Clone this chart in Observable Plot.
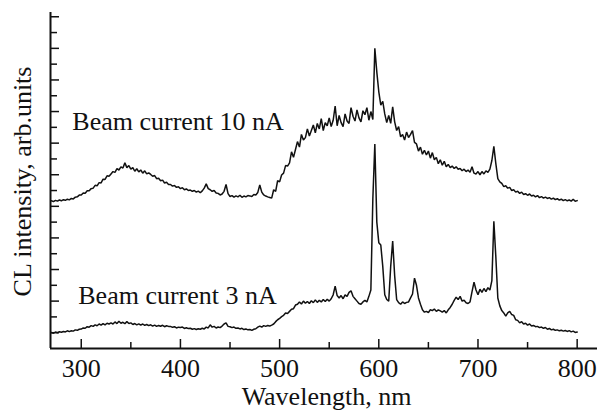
<!DOCTYPE html>
<html><head><meta charset="utf-8">
<script src="https://cdn.jsdelivr.net/npm/d3@7"></script>
<script src="https://cdn.jsdelivr.net/npm/@observablehq/plot@0.6"></script>
<style>
html,body{margin:0;padding:0;background:#fff;}
#chart svg{display:block;}
</style></head><body><div id="chart"></div>
<script>
// Wavelength grid, nm
const wavelength = [
270,272,274,276,278,280,282,284,286,288,
290,292,294,296,298,300,302,304,306,308,
310,312,314,316,318,320,322,324,326,328,
330,332,334,336,338,340,342,344,346,348,
350,352,354,356,358,360,362,364,366,368,
370,372,374,376,378,380,382,384,386,388,
390,392,394,396,398,400,402,404,406,408,
410,412,414,416,418,420,422,424,426,428,
430,432,434,436,438,440,442,444,446,448,
450,452,454,456,458,460,462,464,466,468,
470,472,474,476,478,480,482,484,486,488,
490,492,494,496,498,500,502,504,506,508,
510,512,514,516,518,520,522,524,526,528,
530,532,534,536,538,540,542,544,546,548,
550,552,554,556,558,560,562,564,566,568,
570,572,574,576,578,580,582,584,586,588,
590,592,594,596,598,600,602,604,606,608,
610,612,614,616,618,620,622,624,626,628,
630,632,634,636,638,640,642,644,646,648,
650,652,654,656,658,660,662,664,666,668,
670,672,674,676,678,680,682,684,686,688,
690,692,694,696,698,700,702,704,706,708,
710,712,714,716,718,720,722,724,726,728,
730,732,734,736,738,740,742,744,746,748,
750,752,754,756,758,760,762,764,766,768,
770,772,774,776,778,780,782,784,786,788,
790,792,794,796,798,800];

// CL intensity (arb. units, one unit = one y tick), beam current 10 nA
const intensity10nA = [
9.35,9.30,9.38,9.33,9.40,9.35,9.42,9.38,9.45,9.41,
9.50,9.47,9.58,9.60,9.71,9.72,9.85,9.83,9.98,9.99,
10.12,10.15,10.33,10.30,10.50,10.48,10.72,10.70,10.93,10.90,
11.05,11.20,11.15,11.38,11.30,11.50,11.42,11.75,11.45,11.58,
11.35,11.45,11.22,11.38,11.18,11.30,11.10,11.25,11.05,11.12,
11.02,10.90,10.95,10.75,10.78,10.62,10.66,10.48,10.52,10.38,
10.38,10.28,10.32,10.20,10.24,10.12,10.18,10.05,10.10,10.00,
10.03,9.95,10.00,9.90,9.96,9.86,9.98,10.15,10.42,10.12,
10.05,9.95,10.00,9.85,9.82,9.72,9.78,9.95,10.38,9.80,
9.62,9.68,9.58,9.66,9.60,9.70,9.57,9.65,9.60,9.68,
9.66,9.62,9.75,9.72,9.88,10.35,9.90,9.72,9.65,9.60,
9.56,9.52,10.05,9.95,10.62,10.55,10.98,11.10,11.58,11.55,
11.75,12.45,12.10,12.60,13.10,12.75,13.55,13.20,13.35,13.90,
13.45,13.80,14.15,13.65,14.25,13.90,14.55,13.80,14.30,14.10,
14.60,14.05,14.45,15.35,14.10,14.75,14.30,14.05,14.85,14.40,
14.25,15.25,14.70,14.40,15.10,14.60,14.35,15.05,14.80,15.25,
14.45,15.00,14.50,19.00,17.50,16.25,15.40,15.65,14.85,14.30,
14.75,14.25,15.30,14.35,13.80,14.05,13.40,13.55,13.20,13.70,
13.35,13.55,13.80,13.05,12.95,12.50,12.75,12.30,12.55,12.25,
12.50,12.05,12.40,11.95,12.10,11.70,11.95,11.60,11.85,11.50,
11.65,11.45,11.55,11.40,11.50,11.35,11.40,11.25,11.35,11.20,
11.30,11.15,11.50,11.10,11.05,11.20,11.00,11.20,11.05,11.25,
11.15,11.35,11.90,12.80,11.70,10.75,10.55,10.45,10.25,10.30,
10.15,10.20,10.00,10.05,9.90,9.95,9.82,9.90,9.75,9.80,
9.70,9.78,9.65,9.70,9.60,9.68,9.55,9.62,9.52,9.58,
9.50,9.55,9.45,9.52,9.42,9.48,9.40,9.45,9.36,9.42,
9.35,9.40,9.33,9.45,9.32,9.36];

// CL intensity, beam current 3 nA
const intensity3nA = [
1.01,0.97,1.04,1.00,1.06,1.03,1.08,1.05,1.12,1.07,
1.12,1.10,1.18,1.15,1.22,1.23,1.30,1.28,1.38,1.35,
1.45,1.40,1.50,1.44,1.55,1.48,1.58,1.50,1.60,1.55,
1.62,1.55,1.68,1.58,1.72,1.60,1.66,1.57,1.70,1.58,
1.62,1.52,1.58,1.50,1.56,1.48,1.55,1.46,1.52,1.45,
1.50,1.42,1.48,1.40,1.46,1.41,1.47,1.38,1.44,1.40,
1.40,1.34,1.38,1.30,1.35,1.33,1.36,1.27,1.31,1.26,
1.28,1.22,1.26,1.20,1.25,1.22,1.28,1.24,1.35,1.30,
1.50,1.35,1.40,1.30,1.36,1.32,1.42,1.55,1.62,1.40,
1.38,1.32,1.36,1.28,1.30,1.24,1.28,1.20,1.24,1.18,
1.20,1.15,1.22,1.25,1.35,1.42,1.36,1.45,1.40,1.46,
1.42,1.48,1.55,1.70,1.82,1.90,2.02,2.10,2.25,2.22,
2.35,2.48,2.52,2.75,2.80,2.95,2.82,3.00,2.86,2.98,
2.85,3.02,2.90,3.08,2.92,3.05,2.95,3.10,2.98,3.12,
3.00,3.15,3.40,3.95,3.35,3.20,3.35,3.15,3.40,3.30,
3.55,3.65,3.30,3.15,3.00,2.85,2.80,2.95,3.05,2.95,
3.30,3.70,9.50,12.95,8.00,6.70,6.55,5.20,3.40,3.10,
3.00,5.20,6.80,4.60,3.10,2.90,2.80,2.95,2.85,2.92,
2.95,3.20,3.45,4.45,4.00,3.20,2.80,2.45,2.30,2.35,
2.28,2.45,2.40,2.50,2.35,2.45,2.38,2.30,2.40,2.25,
2.45,2.60,2.80,3.05,3.25,3.10,3.30,3.00,3.05,2.90,
2.85,2.95,3.60,4.20,3.70,3.40,3.75,3.55,3.80,3.60,
3.85,3.70,4.30,8.05,5.80,3.20,2.70,2.40,2.25,2.05,
2.25,2.35,2.15,2.10,1.82,1.78,1.62,1.70,1.55,1.60,
1.48,1.55,1.42,1.46,1.38,1.40,1.32,1.36,1.28,1.33,
1.22,1.27,1.18,1.22,1.15,1.18,1.12,1.16,1.10,1.14,
1.08,1.13,1.05,1.10,1.02,1.04];

const xMajorTicks = [300, 400, 500, 600, 700, 800];
const xMinorTicks = [350, 450, 550, 650, 750];
const yMajorTicks = [1, 3, 5, 7, 9, 11, 13, 15, 17, 19, 21];
const yMinorTicks = [2, 4, 6, 8, 10, 12, 14, 16, 18, 20];
const annotationText = ["Beam current 10 nA", "Beam current 3 nA"];
const annotationX = [291, 297];
const annotationY = [14.35, 3.37];
const xLabel = "Wavelength, nm";
const yLabel = "CL intensity, arb.units";

const W = 598, H = 413, mL = 50, mR = 1, mT = 12, mB = 65;
const plotW = W - mL - mR, plotH = H - mT - mB;
const xDomain = [269, 820.5], yDomain = [0, 21.27];
const font = "'Liberation Serif','Times New Roman',Times,serif";
const ink = "#111";

const rows10 = wavelength.map((w, i) => ({wavelength: w, intensity: intensity10nA[i]}));
const rows3 = wavelength.map((w, i) => ({wavelength: w, intensity: intensity3nA[i]}));
const notes = annotationText.map((t, i) => ({text: t, x: annotationX[i], y: annotationY[i]}));

const chart = Plot.plot({
  width: W, height: H,
  marginLeft: mL, marginRight: mR, marginTop: mT, marginBottom: mB,
  x: {domain: xDomain, axis: null},
  y: {domain: yDomain, axis: null},
  style: {fontFamily: font, fontSize: "26px", background: "#fff", color: ink},
  marks: [
    Plot.line(rows10, {x: "wavelength", y: "intensity", stroke: ink, strokeWidth: 1.5, strokeLinejoin: "miter"}),
    Plot.line(rows3, {x: "wavelength", y: "intensity", stroke: ink, strokeWidth: 1.5, strokeLinejoin: "miter"}),
    Plot.ruleX(xMajorTicks, {insetTop: plotH - 9, stroke: ink, strokeWidth: 1.5}),
    Plot.ruleX(xMinorTicks, {insetTop: plotH - 6, stroke: ink, strokeWidth: 1.5}),
    Plot.ruleY(yMajorTicks, {insetRight: plotW - 9, stroke: ink, strokeWidth: 1.5}),
    Plot.ruleY(yMinorTicks, {insetRight: plotW - 7, stroke: ink, strokeWidth: 1.5}),
    Plot.ruleX([xDomain[0]], {stroke: ink, strokeWidth: 2}),
    Plot.ruleY([yDomain[0]], {stroke: ink, strokeWidth: 2}),
    Plot.text(xMajorTicks, {x: d => d, frameAnchor: "bottom", textAnchor: "middle", lineAnchor: "middle", dy: 20.4, text: d => String(d), fontSize: 26, fill: ink}),
    Plot.text([xLabel], {frameAnchor: "bottom", textAnchor: "middle", lineAnchor: "middle", dx: 2.5, dy: 47.7, text: d => d, fontSize: 26, fill: ink}),
    Plot.text([yLabel], {frameAnchor: "left", textAnchor: "middle", lineAnchor: "middle", rotate: -90, dx: -28.3, dy: 1, text: d => d, fontSize: 26, fill: ink}),
    Plot.text(notes, {x: "x", y: "y", text: "text", textAnchor: "start", lineAnchor: "middle", fontSize: 26, fill: ink})
  ]
});
document.getElementById("chart").appendChild(chart);
</script>
</body></html>
